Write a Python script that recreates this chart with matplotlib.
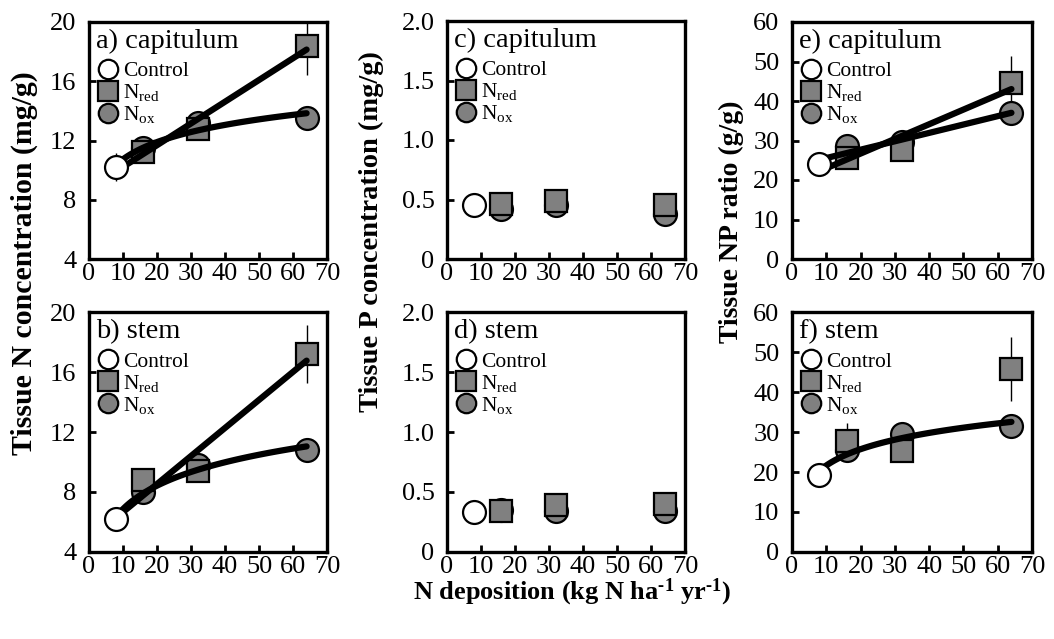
import numpy as np
import matplotlib
matplotlib.use("Agg")
import matplotlib.pyplot as plt
from matplotlib.lines import Line2D
from matplotlib.ticker import FuncFormatter

plt.rcParams.update({
    "font.family": "Liberation Serif",
    "mathtext.fontset": "custom",
    "mathtext.rm": "Liberation Serif",
    "mathtext.bf": "Liberation Serif:bold",
    "mathtext.it": "Liberation Serif:italic",
})

# N deposition levels (kg N ha-1 yr-1)
X_CTRL = 8
X_TRT = [16, 32, 64]

# a) capitulum N (mg/g)
a_ctrl, a_ctrl_err = 10.2, 0.95
a_red = [11.2, 12.8, 18.4]
a_red_err = [0.5, 0.6, 2.0]
a_ox = [11.5, 13.2, 13.5]
a_ox_err = [0.4, 0.4, 0.5]

# b) stem N (mg/g)
b_ctrl, b_ctrl_err = 6.2, 0.4
b_red = [8.8, 9.4, 17.2]
b_red_err = [0.5, 0.5, 1.95]
b_ox = [8.0, 9.8, 10.8]
b_ox_err = [0.4, 0.4, 0.4]

# c) capitulum P (mg/g)
c_ctrl, c_ctrl_err = 0.45, 0.03
c_red = [0.46, 0.49, 0.45]
c_red_err = [0.03, 0.04, 0.05]
c_ox = [0.42, 0.45, 0.38]
c_ox_err = [0.03, 0.03, 0.03]

# d) stem P (mg/g)
d_ctrl, d_ctrl_err = 0.33, 0.02
d_red = [0.34, 0.39, 0.40]
d_red_err = [0.03, 0.03, 0.04]
d_ox = [0.35, 0.34, 0.345]
d_ox_err = [0.02, 0.02, 0.02]

# e) capitulum N:P (g/g)
e_ctrl, e_ctrl_err = 24.0, 3.0
e_red = [25.5, 27.6, 44.5]
e_red_err = [1.5, 2.0, 7.0]
e_ox = [28.5, 29.7, 37.0]
e_ox_err = [1.5, 1.5, 2.0]

# f) stem N:P (g/g)
f_ctrl, f_ctrl_err = 19.3, 1.5
f_red = [27.7, 25.2, 45.7]
f_red_err = [4.5, 2.0, 8.0]
f_ox = [25.4, 29.5, 31.5]
f_ox_err = [1.5, 1.5, 2.0]

PANELS = [
    # title, ctrl, ctrl_err, red, red_err, ox, ox_err, ylim, yticks, fit_red, fit_ox
    ("a) capitulum", a_ctrl, a_ctrl_err, a_red, a_red_err, a_ox, a_ox_err, (4, 20), [4, 8, 12, 16, 20], "lin", "log"),
    ("b) stem", b_ctrl, b_ctrl_err, b_red, b_red_err, b_ox, b_ox_err, (4, 20), [4, 8, 12, 16, 20], "lin", "log"),
    ("c) capitulum", c_ctrl, c_ctrl_err, c_red, c_red_err, c_ox, c_ox_err, (0, 2), [0, 0.5, 1.0, 1.5, 2.0], None, None),
    ("d) stem", d_ctrl, d_ctrl_err, d_red, d_red_err, d_ox, d_ox_err, (0, 2), [0, 0.5, 1.0, 1.5, 2.0], None, None),
    ("e) capitulum", e_ctrl, e_ctrl_err, e_red, e_red_err, e_ox, e_ox_err, (0, 60), [0, 10, 20, 30, 40, 50, 60], "lin", "lin"),
    ("f) stem", f_ctrl, f_ctrl_err, f_red, f_red_err, f_ox, f_ox_err, (0, 60), [0, 10, 20, 30, 40, 50, 60], None, "log"),
]

W, H = 1054, 639
# axes boxes in pixels: left, top, right, bottom
BOXES = [(89, 22, 327, 259), (89, 312, 327, 552),
         (447, 21, 685, 259), (447, 312, 685, 552),
         (792, 22, 1032, 259), (792, 312, 1032, 552)]

GRAY = "#808080"
MS = 16.5


def fit_line(ax, xs, ys, kind):
    xs = np.asarray(xs, float)
    ys = np.asarray(ys, float)
    xx = np.linspace(xs.min(), xs.max(), 100)
    if kind == "lin":
        p = np.polyfit(xs, ys, 1)
        yy = np.polyval(p, xx)
    else:
        p = np.polyfit(np.log(xs), ys, 1)
        yy = np.polyval(p, np.log(xx))
    ax.plot(xx, yy, color="black", lw=4.5, solid_capstyle="round", zorder=5)


fig = plt.figure(figsize=(W / 100, H / 100), dpi=100)

for (title, ctrl, cerr, red, rerr, ox, oerr, ylim, yticks, fr, fo), (l, t, r, b) in zip(PANELS, BOXES):
    ax = fig.add_axes([l / W, 1 - b / H, (r - l) / W, (b - t) / H])
    ax.errorbar(X_TRT, ox, yerr=oerr, fmt="none", ecolor="black", elinewidth=1.0, zorder=2)
    ax.errorbar(X_TRT, red, yerr=rerr, fmt="none", ecolor="black", elinewidth=1.0, zorder=2)
    ax.errorbar([X_CTRL], [ctrl], yerr=[cerr], fmt="none", ecolor="black", elinewidth=1.0, zorder=2)
    ax.plot(X_TRT, ox, ls="none", marker="o", ms=MS, mfc=GRAY, mec="black", mew=1.6, zorder=3)
    ax.plot(X_TRT, red, ls="none", marker="s", ms=MS, mfc=GRAY, mec="black", mew=1.6, zorder=4)
    if fr:
        fit_line(ax, [X_CTRL] + X_TRT, [ctrl] + red, fr)
    if fo:
        fit_line(ax, [X_CTRL] + X_TRT, [ctrl] + ox, fo)
    ax.plot([X_CTRL], [ctrl], ls="none", marker="o", ms=MS, mfc="white", mec="black", mew=1.6, zorder=6)

    ax.set_xlim(0, 70)
    ax.set_ylim(*ylim)
    ax.set_xticks(range(0, 71, 10))
    ax.set_yticks(yticks)
    if ylim == (0, 2):
        ax.yaxis.set_major_formatter(FuncFormatter(lambda v, p: "0" if v == 0 else f"{v:.1f}"))
    ax.tick_params(direction="in", length=5, width=2, labelsize=19, pad=3)
    ax.tick_params(axis="y", pad=9)
    for s in ax.spines.values():
        s.set_linewidth(2.4)

    ax.text(0.03, 0.97, title, transform=ax.transAxes, ha="left", va="top", fontsize=20.5, zorder=7)
    handles = [
        Line2D([], [], ls="none", marker="o", ms=14, mfc="white", mec="black", mew=1.6),
        Line2D([], [], ls="none", marker="s", ms=14, mfc=GRAY, mec="black", mew=1.6),
        Line2D([], [], ls="none", marker="o", ms=14, mfc=GRAY, mec="black", mew=1.6),
    ]
    labels = ["Control", "N$_{\\mathrm{red}}$", "N$_{\\mathrm{ox}}$"]
    ax.legend(handles, labels, loc="upper left", bbox_to_anchor=(0.035, 0.835),
              frameon=False, fontsize=15.5, handlelength=1.0, handletextpad=0.2,
              labelspacing=0.05, borderpad=0, borderaxespad=0, prop={"size": 15.5})

fig.text(24 / W, 1 - 263 / H, "Tissue N concentration (mg/g)", rotation=90,
         ha="center", va="center", fontsize=21.5, fontweight="bold")
fig.text(371 / W, 1 - 232 / H, "Tissue P concentration (mg/g)", rotation=90,
         ha="center", va="center", fontsize=20.5, fontweight="bold")
fig.text(731 / W, 1 - 222 / H, "Tissue NP ratio (g/g)", rotation=90,
         ha="center", va="center", fontsize=20, fontweight="bold")
fig.text(572 / W, 1 - 592 / H, "N deposition (kg N ha$^{\\mathbf{\u20101}}$ yr$^{\\mathbf{\u20101}}$)",
         ha="center", va="center", fontsize=19, fontweight="bold")

fig.savefig("out.png", dpi=100)
